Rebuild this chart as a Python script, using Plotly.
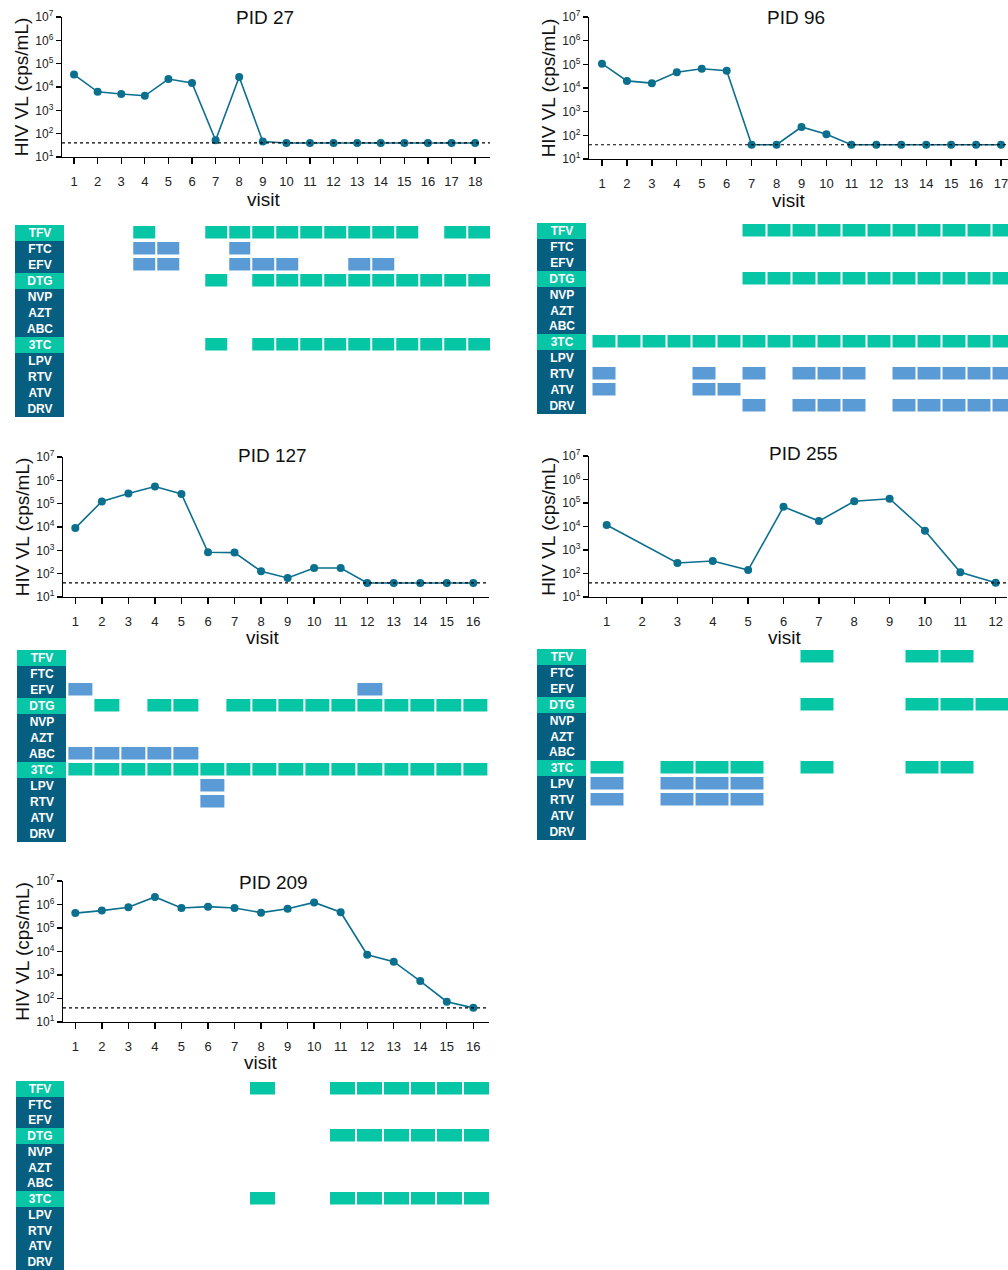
import plotly.graph_objects as go

W, H = 1008, 1270
DRUGS = ["TFV", "FTC", "EFV", "DTG", "NVP", "AZT", "ABC", "3TC", "LPV", "RTV", "ATV", "DRV"]
GREEN_DRUGS = ["TFV", "DTG", "3TC"]
LOD = 40
Y_TICKS = [10, 100, 1000, 1e4, 1e5, 1e6, 1e7]
Y_TICKTEXT = ["10<sup>1</sup>", "10<sup>2</sup>", "10<sup>3</sup>", "10<sup>4</sup>",
              "10<sup>5</sup>", "10<sup>6</sup>", "10<sup>7</sup>"]

LINE_C = "#0B6F8E"
GREEN = "#06C6A6"
BLUE = "#5B9BD5"
LABEL_DARK = "#065E80"

# ---------------- data ----------------
p27_ticks = list(range(1, 19))
p27_visits = list(range(1, 19))
p27_vl = [34000, 6200, 5000, 4200, 22000, 15000, 52, 27000, 46, 40, 40, 40, 40, 40, 40, 40, 40, 40]
p27_rx = {
    "TFV": [4, 7, 8, 9, 10, 11, 12, 13, 14, 15, 17, 18],
    "FTC": [4, 5, 8],
    "EFV": [4, 5, 8, 9, 10, 13, 14],
    "DTG": [7, 9, 10, 11, 12, 13, 14, 15, 16, 17, 18],
    "3TC": [7, 9, 10, 11, 12, 13, 14, 15, 16, 17, 18],
}

p96_ticks = list(range(1, 18))
p96_visits = list(range(1, 18))
p96_vl = [107000, 20000, 16000, 46000, 65000, 54000, 40, 40, 225, 110, 40, 40, 40, 40, 40, 40, 40]
p96_rx = {
    "TFV": [7, 8, 9, 10, 11, 12, 13, 14, 15, 16, 17],
    "DTG": [7, 8, 9, 10, 11, 12, 13, 14, 15, 16, 17],
    "3TC": list(range(1, 18)),
    "RTV": [1, 5, 7, 9, 10, 11, 13, 14, 15, 16, 17],
    "ATV": [1, 5, 6],
    "DRV": [7, 9, 10, 11, 13, 14, 15, 16, 17],
}

p127_ticks = list(range(1, 17))
p127_visits = list(range(1, 17))
p127_vl = [9000, 125000, 270000, 540000, 260000, 830, 800, 126, 65, 175, 175, 40, 40, 40, 40, 40]
p127_rx = {
    "EFV": [1, 12],
    "DTG": [2, 4, 5, 7, 8, 9, 10, 11, 12, 13, 14, 15, 16],
    "ABC": [1, 2, 3, 4, 5],
    "3TC": list(range(1, 17)),
    "LPV": [6],
    "RTV": [6],
}

p255_ticks = list(range(1, 13))
p255_visits = [1, 3, 4, 5, 6, 7, 8, 9, 10, 11, 12]
p255_vl = [11500, 280, 340, 140, 69000, 17000, 118000, 152000, 6600, 113, 40]
p255_rx = {
    "TFV": [7, 10, 11],
    "DTG": [7, 10, 11, 12],
    "3TC": [1, 3, 4, 5, 7, 10, 11],
    "LPV": [1, 3, 4, 5],
    "RTV": [1, 3, 4, 5],
}

p209_ticks = list(range(1, 17))
p209_visits = list(range(1, 17))
p209_vl = [430000, 550000, 760000, 2100000, 710000, 810000, 710000, 450000, 660000,
           1230000, 470000, 7300, 3700, 550, 73, 40]
p209_rx = {
    "TFV": [8, 11, 12, 13, 14, 15, 16],
    "DTG": [11, 12, 13, 14, 15, 16],
    "3TC": [8, 11, 12, 13, 14, 15, 16],
}

# ---------------- layout geometry (pixels) ----------------
panels = [
    dict(name="PID 27", ticks=p27_ticks, visits=p27_visits, vl=p27_vl, rx=p27_rx,
         lx=(62, 490), ly=(17, 157), lrange=(0.49, 18.63), title_x=265, title_y=17,
         xt=(263, 200),
         labx=(15, 64), gy=(225, 417), gx=(64, 490), grange=(0.657, 18.46)),
    dict(name="PID 96", ticks=p96_ticks, visits=p96_visits, vl=p96_vl, rx=p96_rx,
         lx=(589, 1008), ly=(17, 159), lrange=(0.479, 17.28), title_x=796, title_y=17,
         xt=(788, 201),
         labx=(537, 586), gy=(223, 414), gx=(586, 1008), grange=(0.28, 17.16)),
    dict(name="PID 127", ticks=p127_ticks, visits=p127_visits, vl=p127_vl, rx=p127_rx,
         lx=(63, 489), ly=(457, 597), lrange=(0.536, 16.59), title_x=272, title_y=456,
         xt=(262, 638),
         labx=(17, 66), gy=(650, 842), gx=(66, 490), grange=(0.449, 16.57)),
    dict(name="PID 255", ticks=p255_ticks, visits=p255_visits, vl=p255_vl, rx=p255_rx,
         lx=(589, 1007), ly=(456, 597), lrange=(0.5, 12.32), title_x=803, title_y=453,
         xt=(784, 638),
         labx=(537, 586), gy=(649, 840), gx=(586, 1008), grange=(0.4, 12.46)),
    dict(name="PID 209", ticks=p209_ticks, visits=p209_visits, vl=p209_vl, rx=p209_rx,
         lx=(63, 489), ly=(881, 1022), lrange=(0.536, 16.59), title_x=273, title_y=882,
         xt=(260, 1062),
         labx=(16, 64), gy=(1081, 1270), gx=(64, 490), grange=(0.612, 16.5)),
]


def fx(px):
    return max(0.0, min(1.0, px / W))


def fy(py):
    return max(0.0, min(1.0, 1 - py / H))


def xn(i):
    return "x" if i == 1 else f"x{i}"


def yn(i):
    return "y" if i == 1 else f"y{i}"


def xk(i):
    return "xaxis" if i == 1 else f"xaxis{i}"


def yk(i):
    return "yaxis" if i == 1 else f"yaxis{i}"


fig = go.Figure()
layout = dict(width=W, height=H, margin=dict(l=0, r=0, t=0, b=0, pad=0, autoexpand=False),
              paper_bgcolor="white", plot_bgcolor="white", showlegend=False,
              font=dict(family="Liberation Sans, Arial, sans-serif", color="#222"))
shapes = []
annotations = []

ax = 0
for p in panels:
    xl, xlab, xg = ax + 1, ax + 2, ax + 3
    yl, yg = ax + 1, ax + 2
    ax += 3

    # ---- viral load line ----
    fig.add_trace(go.Scatter(
        x=p["visits"], y=p["vl"], mode="lines+markers",
        line=dict(color=LINE_C, width=1.6),
        marker=dict(size=8, color=LINE_C),
        xaxis=xn(xl), yaxis=yn(yl), hoverinfo="skip"))

    layout[xk(xl)] = dict(
        domain=[fx(p["lx"][0]), fx(p["lx"][1])], range=list(p["lrange"]),
        anchor=yn(yl), tickvals=p["ticks"], ticktext=[str(t) for t in p["ticks"]],
        ticks="outside", ticklen=6, tickwidth=1.3, tickcolor="black",
        showline=True, linecolor="black", linewidth=1.3, automargin=False,
        showgrid=False, zeroline=False, ticklabelstandoff=6, ticklabeloverflow="allow",
        tickfont=dict(size=13, color="#222"))
    layout[yk(yl)] = dict(
        domain=[fy(p["ly"][1]), fy(p["ly"][0])], type="log", range=[1, 7],
        anchor=xn(xl), tickvals=Y_TICKS, ticktext=Y_TICKTEXT,
        ticks="outside", ticklen=5, tickwidth=1.3, tickcolor="black",
        showline=True, linecolor="black", linewidth=1.3, automargin=False,
        showgrid=False, zeroline=False, ticklabeloverflow="allow",
        tickfont=dict(size=12, color="#222"),
        title=dict(text="HIV VL (cps/mL)", font=dict(size=19, color="#111"), standoff=1))

    shapes.append(dict(type="line", xref=f"{xn(xl)} domain", yref=yn(yl),
                       x0=0, x1=1, y0=LOD, y1=LOD,
                       line=dict(color="black", width=1.2, dash="dot")))

    annotations.append(dict(text=p["name"], x=fx(p["title_x"]), y=fy(p["title_y"]),
                            xref="paper", yref="paper", showarrow=False,
                            font=dict(size=19, color="#111"), xanchor="center", yanchor="middle"))
    annotations.append(dict(text="visit", x=fx(p["xt"][0]), y=fy(p["xt"][1]),
                            xref="paper", yref="paper", showarrow=False,
                            font=dict(size=19, color="#111"), xanchor="center", yanchor="middle"))

    # ---- drug label column ----
    rows = list(range(len(DRUGS)))
    fig.add_trace(go.Heatmap(
        x=[0], y=rows, z=[[1 if d in GREEN_DRUGS else 0] for d in DRUGS],
        text=[[d] for d in DRUGS], texttemplate="<b>%{text}</b>",
        textfont=dict(size=12, color="white", family="Liberation Sans, Arial, sans-serif"),
        colorscale=[[0, LABEL_DARK], [1, GREEN]], zmin=0, zmax=1, showscale=False,
        xaxis=xn(xlab), yaxis=yn(yg), hoverinfo="skip"))
    layout[xk(xlab)] = dict(domain=[fx(p["labx"][0]), fx(p["labx"][1])], range=[-0.5, 0.5],
                            anchor=yn(yg), visible=False, fixedrange=True, automargin=False)

    # ---- regimen grid ----
    z = []
    for d in DRUGS:
        on = p["rx"].get(d, [])
        val = 1 if d in GREEN_DRUGS else 2
        z.append([val if v in on else None for v in p["ticks"]])
    fig.add_trace(go.Heatmap(
        x=p["ticks"], y=rows, z=z, xgap=2, ygap=3.5,
        colorscale=[[0, GREEN], [0.5, GREEN], [0.5, BLUE], [1, BLUE]],
        zmin=1, zmax=2, showscale=False,
        xaxis=xn(xg), yaxis=yn(yg), hoverinfo="skip"))
    layout[xk(xg)] = dict(domain=[fx(p["gx"][0]), fx(p["gx"][1])], range=list(p["grange"]),
                          anchor=yn(yg), visible=False, fixedrange=True, automargin=False)
    layout[yk(yg)] = dict(domain=[fy(p["gy"][1]), fy(p["gy"][0])],
                          range=[len(DRUGS) - 0.5, -0.5], anchor=xn(xlab),
                          visible=False, fixedrange=True, automargin=False)

layout["shapes"] = shapes
layout["annotations"] = annotations
fig.update_layout(**layout)
fig.write_html(
    "out.html",
    config={"responsive": False, "displayModeBar": False, "staticPlot": True},
    post_script="document.body.style.margin='0';"
                "document.documentElement.style.overflow='hidden';"
                "document.body.style.overflow='hidden';",
)
